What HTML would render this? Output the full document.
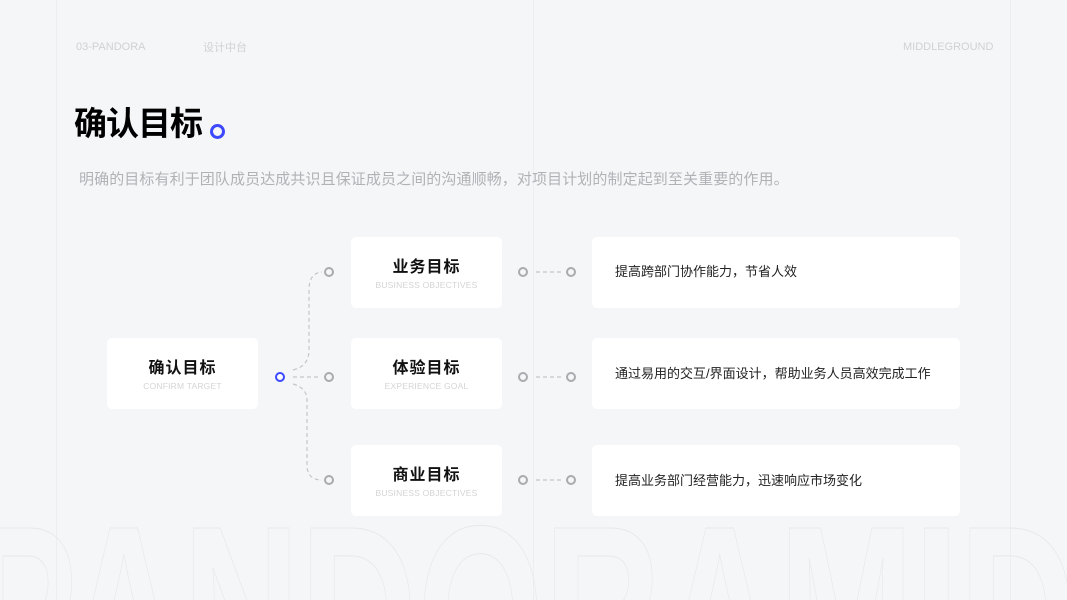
<!DOCTYPE html>
<html><head><meta charset="utf-8"><style>
*{margin:0;padding:0;box-sizing:border-box}
body{width:1067px;height:600px;background:#f5f6f8;position:relative;overflow:hidden;font-family:"Liberation Sans","Noto Sans CJK SC",sans-serif}
.a{position:absolute;white-space:nowrap}
.vl{position:absolute;top:0;width:1px;height:600px;background:#eceef1}
.card{position:absolute;background:#fff;border-radius:5px}
.ct{position:absolute;left:0;right:0;text-align:center;font-weight:bold;font-size:16px;color:#111;letter-spacing:1px}
.cs{position:absolute;left:0;right:0;text-align:center;font-size:8.5px;color:#d4d4d4;letter-spacing:.2px}
.rt{position:absolute;left:23px;font-size:13px;color:#222;line-height:14px}
</style></head><body>
<div class="vl" style="left:56px"></div>
<div class="vl" style="left:533px"></div>
<div class="vl" style="left:1010px"></div>
<svg class="a" style="left:0;top:0" width="1067" height="600">
<text x="-40" y="700" font-family="Liberation Sans" font-weight="bold" font-size="250" fill="none" stroke="#e6e8ec" stroke-width="1" transform="scale(0.78,1)" textLength="1420" lengthAdjust="spacingAndGlyphs">PANDORAMID</text>
</svg>
<div class="a" style="left:76px;top:41px;font-size:11px;color:#cfd1d4">03-PANDORA</div>
<div class="a" style="left:203px;top:39px;font-size:11px;color:#cfd1d4">设计中台</div>
<div class="a" style="left:903px;top:41px;font-size:11px;color:#cfd1d4">MIDDLEGROUND</div>
<div class="a" style="left:74px;top:104px;font-size:33px;font-weight:bold;color:#000;line-height:40px;letter-spacing:-1px">确认目标</div>
<div class="a" style="left:210px;top:124px;width:15px;height:15px;border:3.5px solid #3d49ff;border-radius:50%"></div>
<div class="a" style="left:79px;top:170px;font-size:15px;color:#b0b2b6;letter-spacing:0.1px;line-height:20px">明确的目标有利于团队成员达成共识且保证成员之间的沟通顺畅，对项目计划的制定起到至关重要的作用。</div>

<div class="card" style="left:107px;top:338px;width:151px;height:71px"><div class="ct" style="top:16px">确认目标</div><div class="cs" style="top:43px">CONFIRM TARGET</div></div>
<div class="card" style="left:351px;top:237px;width:151px;height:71px"><div class="ct" style="top:16px">业务目标</div><div class="cs" style="top:43px">BUSINESS OBJECTIVES</div></div>
<div class="card" style="left:351px;top:338px;width:151px;height:71px"><div class="ct" style="top:16px">体验目标</div><div class="cs" style="top:43px">EXPERIENCE GOAL</div></div>
<div class="card" style="left:351px;top:445px;width:151px;height:71px"><div class="ct" style="top:16px">商业目标</div><div class="cs" style="top:43px">BUSINESS OBJECTIVES</div></div>
<div class="card" style="left:592px;top:237px;width:368px;height:71px"><div class="rt" style="top:28px">提高跨部门协作能力，节省人效</div></div>
<div class="card" style="left:592px;top:338px;width:368px;height:71px"><div class="rt" style="top:29px">通过易用的交互/界面设计，帮助业务人员高效完成工作</div></div>
<div class="card" style="left:592px;top:445px;width:368px;height:71px"><div class="rt" style="top:29px">提高业务部门经营能力，迅速响应市场变化</div></div>

<svg class="a" style="left:0;top:0" width="1067" height="600">
<g fill="none" stroke="#c4c6ca" stroke-width="1.2" stroke-dasharray="4,3">
<path d="M293 370 Q309 366 309 350 L309 290 Q309 273 322 272"/>
<path d="M293 377 L320 377"/>
<path d="M293 384 Q307 388 307 400 L307 465 Q307 480 322 480"/>
<path d="M536 272 L562 272"/><path d="M536 377 L562 377"/><path d="M536 480 L562 480"/>
</g>
<circle cx="280" cy="377" r="4" fill="#fff" stroke="#3d49ff" stroke-width="2"/>
<g fill="none" stroke="#a9abaf" stroke-width="2">
<circle cx="329" cy="272" r="4"/><circle cx="329" cy="377" r="4"/><circle cx="329" cy="480" r="4"/>
<circle cx="523" cy="272" r="4"/><circle cx="523" cy="377" r="4"/><circle cx="523" cy="480" r="4"/>
<circle cx="571" cy="272" r="4"/><circle cx="571" cy="377" r="4"/><circle cx="571" cy="480" r="4"/>
</g>
</svg>
</body></html>
